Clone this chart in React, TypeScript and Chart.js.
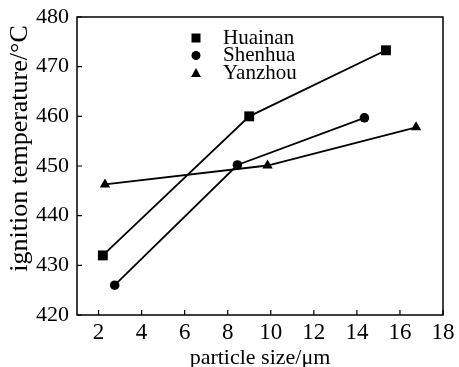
import React, { useEffect, useRef } from "react";
import { Chart, registerables } from "chart.js";

Chart.register(...registerables);

const seriesNames = ["Huainan", "Shenhua", "Yanzhou"];
const huainanX = [2.2, 9.0, 15.35];
const huainanY = [432, 460, 473.3];
const shenhuaX = [2.75, 8.45, 14.35];
const shenhuaY = [426, 450.2, 459.7];
const yanzhouX = [2.3, 9.85, 16.75];
const yanzhouY = [446.3, 450.1, 457.8];
const pointStyles = ["rect", "circle", "triangle"];
const xTickValues = [2, 4, 6, 8, 10, 12, 14, 16, 18];
const yTickValues = [420, 430, 440, 450, 460, 470, 480];
const xTitle = "particle size/μm";
const yTitle = "ignition temperature/°C";

const FONT = "'Liberation Serif', 'Times New Roman', serif";

const toPoints = (xs: number[], ys: number[]) => xs.map((x, i) => ({ x, y: ys[i] }));

const framePlugin = {
  id: "frameAndTicks",
  afterDatasetsDraw(chart: any) {
    const { ctx, chartArea, scales } = chart;
    const { left, right, top, bottom } = chartArea;
    ctx.save();
    ctx.strokeStyle = "#000";
    ctx.lineWidth = 1.5;
    ctx.strokeRect(left, top, right - left, bottom - top);
    ctx.lineWidth = 1.2;
    const tl = 5;
    ctx.beginPath();
    xTickValues.forEach((v) => {
      const px = scales.x.getPixelForValue(v);
      ctx.moveTo(px, bottom);
      ctx.lineTo(px, bottom - tl);
    });
    yTickValues.forEach((v) => {
      const py = scales.y.getPixelForValue(v);
      ctx.moveTo(left, py);
      ctx.lineTo(left + tl, py);
    });
    ctx.stroke();

    // y axis title
    ctx.fillStyle = "#000";
    ctx.save();
    ctx.font = `26px ${FONT}`;
    ctx.translate(27, 148.5);
    ctx.rotate(-Math.PI / 2);
    ctx.textAlign = "center";
    ctx.textBaseline = "alphabetic";
    ctx.fillText(yTitle, 0, 0);
    ctx.restore();

    // legend
    const lx = 196;
    const tx = 223;
    const y0 = 38;
    const dy = 17.5;
    ctx.font = `21px ${FONT}`;
    ctx.textBaseline = "middle";
    ctx.textAlign = "left";
    chart.data.datasets.forEach((ds: any, i: number) => {
      const y = y0 + i * dy;
      ctx.beginPath();
      if (ds.pointStyle === "rect") {
        ctx.fillRect(lx - 4.5, y - 4.5, 9, 9);
      } else if (ds.pointStyle === "circle") {
        ctx.arc(lx, y, 4.5, 0, Math.PI * 2);
        ctx.fill();
      } else {
        ctx.moveTo(lx, y - 5);
        ctx.lineTo(lx + 5, y + 4);
        ctx.lineTo(lx - 5, y + 4);
        ctx.closePath();
        ctx.fill();
      }
      ctx.fillText(ds.label, tx, y);
    });
    ctx.restore();
  },
};

export default function App() {
  const ref = useRef<HTMLCanvasElement | null>(null);
  useEffect(() => {
    document.body.style.margin = "0";
    const canvas = ref.current;
    if (!canvas) return;
    const xsList = [huainanX, shenhuaX, yanzhouX];
    const ysList = [huainanY, shenhuaY, yanzhouY];
    const chart = new Chart(canvas, {
      type: "line",
      data: {
        datasets: seriesNames.map((name, i) => ({
          label: name,
          data: toPoints(xsList[i], ysList[i]),
          borderColor: "#000",
          backgroundColor: "#000",
          borderWidth: 1.8,
          pointStyle: pointStyles[i] as any,
          pointRadius: pointStyles[i] === "rect" ? 7 : pointStyles[i] === "triangle" ? 6 : 4.8,
          pointBorderWidth: 0,
          pointBackgroundColor: "#000",
          pointBorderColor: "#000",
          fill: false,
          tension: 0,
        })),
      },
      options: {
        animation: false,
        responsive: false,
        maintainAspectRatio: false,
        layout: { padding: { left: 0, right: 16, top: 17, bottom: 0 } },
        plugins: { legend: { display: false }, tooltip: { enabled: false } },
        scales: {
          x: {
            type: "linear",
            min: 1,
            max: 18,
            afterBuildTicks: (scale: any) => {
              scale.ticks = xTickValues.map((v) => ({ value: v }));
            },
            afterFit: (scale: any) => {
              scale.height = 52;
              scale.paddingLeft = 0;
              scale.paddingRight = 0;
            },
            grid: { display: false, drawTicks: false },
            border: { display: false },
            ticks: {
              color: "#000",
              padding: 4,
              font: { family: FONT, size: 23 },
              maxRotation: 0,
              autoSkip: false,
            },
            title: {
              display: true,
              text: xTitle,
              color: "#000",
              font: { family: FONT, size: 22 },
              padding: { top: 0, bottom: -4 },
            },
          },
          y: {
            type: "linear",
            min: 420,
            max: 480,
            afterBuildTicks: (scale: any) => {
              scale.ticks = yTickValues.map((v) => ({ value: v }));
            },
            afterFit: (scale: any) => {
              scale.width = 77;
              scale.paddingTop = 0;
              scale.paddingBottom = 0;
            },
            grid: { display: false, drawTicks: false },
            border: { display: false },
            ticks: {
              color: "#000",
              padding: 8,
              font: { family: FONT, size: 22 },
            },
          },
        },
      },
      plugins: [framePlugin],
    });
    return () => chart.destroy();
  }, []);
  return (
    <div style={{ position: "absolute", left: 0, top: 0, width: 459, height: 367 }}>
      <canvas ref={ref} width={459} height={367} style={{ width: 459, height: 367 }} />
    </div>
  );
}
